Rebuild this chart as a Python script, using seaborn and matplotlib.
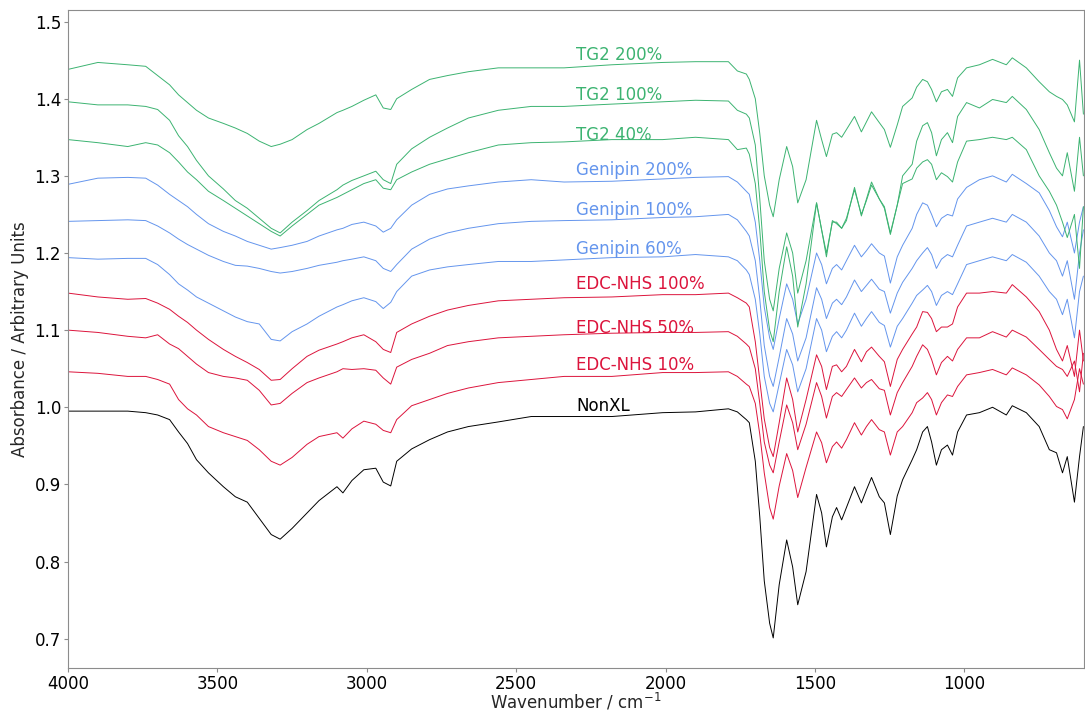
import numpy as np
import pandas as pd
import matplotlib
matplotlib.use("Agg")
import matplotlib.pyplot as plt
import seaborn as sns

# ---------------- data ----------------
wavenumber = [
    4000, 3900, 3800, 3740, 3700, 3660, 3630, 3600, 3570, 3530,
    3480, 3440, 3400, 3360, 3320, 3290, 3250, 3200, 3160, 3100,
    3080, 3050, 3010, 2970, 2945, 2920, 2900, 2850, 2790, 2730,
    2660, 2560, 2450, 2340, 2180, 2010, 1900, 1790, 1760, 1730,
    1720, 1700, 1685, 1670, 1652, 1640, 1620, 1595, 1575, 1558,
    1530, 1495, 1478, 1462, 1442, 1428, 1411, 1395, 1368, 1345,
    1328, 1311, 1285, 1268, 1248, 1225, 1207, 1175, 1160, 1140,
    1124, 1110, 1094, 1077, 1057, 1040, 1023, 993, 950, 906,
    860, 840, 793, 750, 716, 692, 672, 656, 632, 615,
    602,
]

nonxl = [
    0.995, 0.995, 0.995, 0.993, 0.990, 0.984, 0.968, 0.953, 0.932, 0.915,
    0.897, 0.884, 0.877, 0.856, 0.835, 0.829, 0.843, 0.863, 0.879, 0.897,
    0.889, 0.905, 0.919, 0.921, 0.903, 0.898, 0.930, 0.946, 0.958, 0.968,
    0.975, 0.981, 0.988, 0.988, 0.988, 0.993, 0.994, 0.998, 0.994, 0.984,
    0.980, 0.930, 0.858, 0.775, 0.720, 0.701, 0.770, 0.828, 0.793, 0.744,
    0.787, 0.887, 0.863, 0.819, 0.858, 0.870, 0.854, 0.870, 0.897, 0.876,
    0.893, 0.909, 0.884, 0.876, 0.835, 0.885, 0.906, 0.932, 0.945, 0.968,
    0.975, 0.955, 0.925, 0.945, 0.951, 0.938, 0.968, 0.990, 0.993, 1.000,
    0.990, 1.002, 0.993, 0.975, 0.945, 0.941, 0.915, 0.936, 0.877, 0.936,
    0.975,
]

edc_10 = [
    1.046, 1.044, 1.040, 1.040, 1.036, 1.030, 1.010, 0.998, 0.990, 0.975,
    0.967, 0.962, 0.957, 0.945, 0.930, 0.925, 0.935, 0.952, 0.962, 0.967,
    0.960, 0.972, 0.982, 0.978, 0.970, 0.967, 0.984, 1.002, 1.010, 1.018,
    1.025, 1.032, 1.036, 1.040, 1.040, 1.045, 1.045, 1.046, 1.040, 1.030,
    1.027, 1.005, 0.965, 0.915, 0.870, 0.855, 0.898, 0.940, 0.918, 0.883,
    0.922, 0.968, 0.954, 0.928, 0.949, 0.955, 0.947, 0.958, 0.980, 0.964,
    0.975, 0.984, 0.971, 0.968, 0.938, 0.968, 0.975, 0.993, 1.006, 1.012,
    1.019, 1.010, 0.990, 1.006, 1.016, 1.014, 1.027, 1.042, 1.045, 1.049,
    1.042, 1.051, 1.042, 1.029, 1.014, 1.001, 0.997, 0.985, 1.010, 1.050,
    1.030,
]

edc_50 = [
    1.100, 1.097, 1.092, 1.090, 1.094, 1.082, 1.076, 1.066, 1.056, 1.045,
    1.040, 1.038, 1.035, 1.022, 1.003, 1.005, 1.018, 1.032, 1.038, 1.046,
    1.050, 1.049, 1.050, 1.048, 1.038, 1.030, 1.052, 1.062, 1.070, 1.080,
    1.085, 1.090, 1.092, 1.094, 1.096, 1.097, 1.097, 1.098, 1.092, 1.082,
    1.078, 1.050, 1.005, 0.955, 0.925, 0.915, 0.955, 1.003, 0.980, 0.945,
    0.978, 1.032, 1.014, 0.986, 1.014, 1.019, 1.014, 1.023, 1.038, 1.025,
    1.032, 1.036, 1.024, 1.022, 0.990, 1.019, 1.032, 1.053, 1.066, 1.081,
    1.075, 1.062, 1.042, 1.058, 1.066, 1.060, 1.075, 1.090, 1.090, 1.098,
    1.091, 1.100, 1.091, 1.075, 1.062, 1.053, 1.049, 1.040, 1.060, 1.020,
    1.070,
]

edc_100 = [
    1.148, 1.143, 1.140, 1.141, 1.135, 1.127, 1.118, 1.110, 1.100, 1.088,
    1.075, 1.066, 1.058, 1.049, 1.035, 1.036, 1.050, 1.066, 1.074, 1.082,
    1.085, 1.090, 1.094, 1.085, 1.075, 1.071, 1.097, 1.108, 1.118, 1.126,
    1.132, 1.138, 1.140, 1.142, 1.143, 1.146, 1.146, 1.148, 1.142, 1.135,
    1.130, 1.085, 1.035, 0.985, 0.948, 0.936, 0.980, 1.038, 1.010, 0.968,
    1.010, 1.068, 1.053, 1.023, 1.053, 1.055, 1.046, 1.053, 1.075, 1.059,
    1.072, 1.078, 1.066, 1.059, 1.027, 1.062, 1.075, 1.095, 1.104, 1.124,
    1.123, 1.115, 1.098, 1.104, 1.104, 1.108, 1.130, 1.148, 1.148, 1.150,
    1.148, 1.159, 1.143, 1.124, 1.100, 1.075, 1.060, 1.080, 1.040, 1.100,
    1.060,
]

genipin_60 = [
    1.194, 1.192, 1.193, 1.193, 1.185, 1.172, 1.160, 1.152, 1.143, 1.135,
    1.125, 1.117, 1.111, 1.108, 1.088, 1.086, 1.098, 1.108, 1.118, 1.130,
    1.133, 1.138, 1.142, 1.137, 1.128, 1.136, 1.150, 1.170, 1.178, 1.182,
    1.185, 1.189, 1.189, 1.191, 1.194, 1.195, 1.198, 1.195, 1.190, 1.178,
    1.172, 1.140, 1.095, 1.040, 1.005, 0.994, 1.030, 1.075, 1.055, 1.020,
    1.050, 1.115, 1.100, 1.072, 1.092, 1.098, 1.090, 1.100, 1.122, 1.105,
    1.115, 1.124, 1.110, 1.106, 1.078, 1.105, 1.115, 1.135, 1.145, 1.152,
    1.158, 1.150, 1.132, 1.145, 1.150, 1.146, 1.160, 1.185, 1.190, 1.195,
    1.190, 1.198, 1.188, 1.170, 1.150, 1.140, 1.120, 1.140, 1.090, 1.150,
    1.170,
]

genipin_100 = [
    1.241, 1.242, 1.243, 1.242, 1.235, 1.226, 1.218, 1.211, 1.205, 1.197,
    1.189, 1.184, 1.183, 1.180, 1.176, 1.174, 1.176, 1.180, 1.184, 1.188,
    1.190, 1.192, 1.195, 1.190, 1.180, 1.176, 1.185, 1.205, 1.218, 1.226,
    1.232, 1.238, 1.241, 1.242, 1.243, 1.246, 1.247, 1.250, 1.243, 1.228,
    1.222, 1.190, 1.140, 1.080, 1.040, 1.027, 1.065, 1.115, 1.095, 1.060,
    1.090, 1.155, 1.140, 1.115, 1.135, 1.140, 1.133, 1.143, 1.165, 1.150,
    1.158, 1.166, 1.153, 1.150, 1.122, 1.148, 1.162, 1.180, 1.190, 1.200,
    1.207, 1.198, 1.180, 1.192, 1.198, 1.195, 1.210, 1.235, 1.240, 1.245,
    1.240, 1.250, 1.240, 1.222, 1.200, 1.190, 1.170, 1.190, 1.140, 1.200,
    1.230,
]

genipin_200 = [
    1.289, 1.297, 1.298, 1.297, 1.288, 1.276, 1.268, 1.260, 1.250, 1.238,
    1.228, 1.222, 1.215, 1.210, 1.205, 1.207, 1.210, 1.215, 1.222, 1.230,
    1.232, 1.237, 1.240, 1.235, 1.227, 1.232, 1.243, 1.262, 1.276, 1.283,
    1.287, 1.292, 1.295, 1.292, 1.293, 1.296, 1.298, 1.299, 1.292, 1.280,
    1.276, 1.240, 1.190, 1.130, 1.090, 1.075, 1.115, 1.160, 1.140, 1.108,
    1.140, 1.200, 1.185, 1.160, 1.180, 1.185, 1.178, 1.190, 1.210, 1.195,
    1.203, 1.212, 1.200, 1.196, 1.161, 1.195, 1.210, 1.232, 1.250, 1.265,
    1.262, 1.250, 1.234, 1.245, 1.250, 1.248, 1.270, 1.285, 1.295, 1.300,
    1.292, 1.302, 1.290, 1.278, 1.255, 1.234, 1.221, 1.240, 1.200, 1.240,
    1.260,
]

tg2_40 = [
    1.347, 1.343, 1.338, 1.343, 1.340, 1.330, 1.318, 1.305, 1.295, 1.280,
    1.268, 1.258, 1.248, 1.238, 1.228, 1.222, 1.235, 1.250, 1.262, 1.272,
    1.276, 1.282, 1.290, 1.295, 1.284, 1.282, 1.295, 1.305, 1.315, 1.322,
    1.330, 1.340, 1.343, 1.344, 1.347, 1.347, 1.350, 1.347, 1.334, 1.336,
    1.328, 1.290, 1.230, 1.150, 1.100, 1.085, 1.150, 1.208, 1.170, 1.104,
    1.160, 1.265, 1.230, 1.195, 1.242, 1.238, 1.232, 1.242, 1.285, 1.248,
    1.270, 1.292, 1.270, 1.258, 1.224, 1.262, 1.290, 1.296, 1.310, 1.318,
    1.321, 1.315, 1.295, 1.304, 1.299, 1.292, 1.318, 1.345, 1.347, 1.350,
    1.347, 1.350, 1.334, 1.300, 1.280, 1.262, 1.240, 1.220, 1.250, 1.180,
    1.260,
]

tg2_100 = [
    1.396, 1.392, 1.392, 1.390, 1.386, 1.372, 1.352, 1.338, 1.320, 1.300,
    1.283, 1.268, 1.258, 1.245, 1.232, 1.226, 1.240, 1.255, 1.268, 1.282,
    1.288, 1.294, 1.300, 1.306, 1.295, 1.290, 1.315, 1.335, 1.350, 1.362,
    1.375, 1.385, 1.390, 1.390, 1.393, 1.396, 1.398, 1.397, 1.385, 1.380,
    1.375, 1.340, 1.270, 1.190, 1.140, 1.125, 1.180, 1.226, 1.200, 1.148,
    1.190, 1.265, 1.230, 1.200, 1.240, 1.240, 1.232, 1.245, 1.282, 1.250,
    1.268, 1.288, 1.270, 1.260, 1.226, 1.262, 1.300, 1.315, 1.345, 1.365,
    1.369, 1.356, 1.326, 1.347, 1.356, 1.343, 1.377, 1.395, 1.388, 1.399,
    1.395, 1.403, 1.386, 1.360, 1.330, 1.310, 1.300, 1.330, 1.280, 1.350,
    1.300,
]

tg2_200 = [
    1.438, 1.447, 1.444, 1.442, 1.430, 1.418, 1.405, 1.395, 1.385, 1.375,
    1.368, 1.362, 1.355, 1.345, 1.338, 1.341, 1.347, 1.360, 1.368, 1.382,
    1.385, 1.390, 1.398, 1.405, 1.388, 1.386, 1.400, 1.412, 1.425, 1.430,
    1.435, 1.440, 1.440, 1.440, 1.444, 1.447, 1.448, 1.448, 1.436, 1.432,
    1.425, 1.400, 1.355, 1.300, 1.262, 1.247, 1.295, 1.338, 1.312, 1.265,
    1.295, 1.372, 1.347, 1.325, 1.354, 1.356, 1.350, 1.360, 1.377, 1.357,
    1.370, 1.383, 1.369, 1.360, 1.337, 1.366, 1.390, 1.401, 1.415, 1.425,
    1.422, 1.412, 1.396, 1.409, 1.412, 1.403, 1.427, 1.440, 1.444, 1.451,
    1.444, 1.453, 1.440, 1.422, 1.409, 1.403, 1.399, 1.392, 1.370, 1.450,
    1.380,
]

sample_names = ["NonXL", "EDC-NHS 10%", "EDC-NHS 50%", "EDC-NHS 100%",
                "Genipin 60%", "Genipin 100%", "Genipin 200%",
                "TG2 40%", "TG2 100%", "TG2 200%"]
sample_values = [nonxl, edc_10, edc_50, edc_100,
                 genipin_60, genipin_100, genipin_200,
                 tg2_40, tg2_100, tg2_200]
label_y = [1.001, 1.055, 1.103, 1.160, 1.205, 1.256, 1.307, 1.353, 1.405, 1.457]

# ---------------- style ----------------
BLACK, RED, BLUE, GREEN = "#000000", "#DC143C", "#6495ED", "#3CB371"
palette = {"NonXL": BLACK,
           "EDC-NHS 10%": RED, "EDC-NHS 50%": RED, "EDC-NHS 100%": RED,
           "Genipin 60%": BLUE, "Genipin 100%": BLUE, "Genipin 200%": BLUE,
           "TG2 40%": GREEN, "TG2 100%": GREEN, "TG2 200%": GREEN}

sns.set_theme(style="ticks")
plt.rcParams["font.family"] = ["DejaVu Sans"]
plt.rcParams["axes.edgecolor"] = "#8c8c8c"
plt.rcParams["xtick.color"] = "#8c8c8c"
plt.rcParams["ytick.color"] = "#8c8c8c"
plt.rcParams["xtick.labelcolor"] = "black"
plt.rcParams["ytick.labelcolor"] = "black"

frames = []
for name, vals in zip(sample_names, sample_values):
    frames.append(pd.DataFrame({"wavenumber": wavenumber,
                                "absorbance": vals,
                                "sample": name}))
df = pd.concat(frames, ignore_index=True)

fig = plt.figure(figsize=(10.85, 7.13), dpi=100)
ax = fig.add_axes([68 / 1085, 45 / 713, 1016 / 1085, 658 / 713])

sns.lineplot(data=df, x="wavenumber", y="absorbance", hue="sample",
             hue_order=sample_names, palette=palette, estimator=None,
             sort=False, legend=False, linewidth=0.7, ax=ax)

for name, y in zip(sample_names, label_y):
    ax.text(2300, y, name, color=palette[name], fontsize=12,
            ha="left", va="center")

ax.set_xlim(4000, 600)
ax.set_ylim(0.662, 1.515)
ax.set_xticks([4000, 3500, 3000, 2500, 2000, 1500, 1000])
ax.set_yticks([0.7, 0.8, 0.9, 1.0, 1.1, 1.2, 1.3, 1.4, 1.5])
ax.tick_params(labelsize=12, length=3, width=0.8, pad=2)
ax.set_xlabel("Wavenumber / cm$^{-1}$", fontsize=12, labelpad=-1)
ax.set_ylabel("Absorbance / Arbitrary Units", fontsize=12)
for s in ax.spines.values():
    s.set_linewidth(0.8)

fig.savefig("out.png", dpi=100)
